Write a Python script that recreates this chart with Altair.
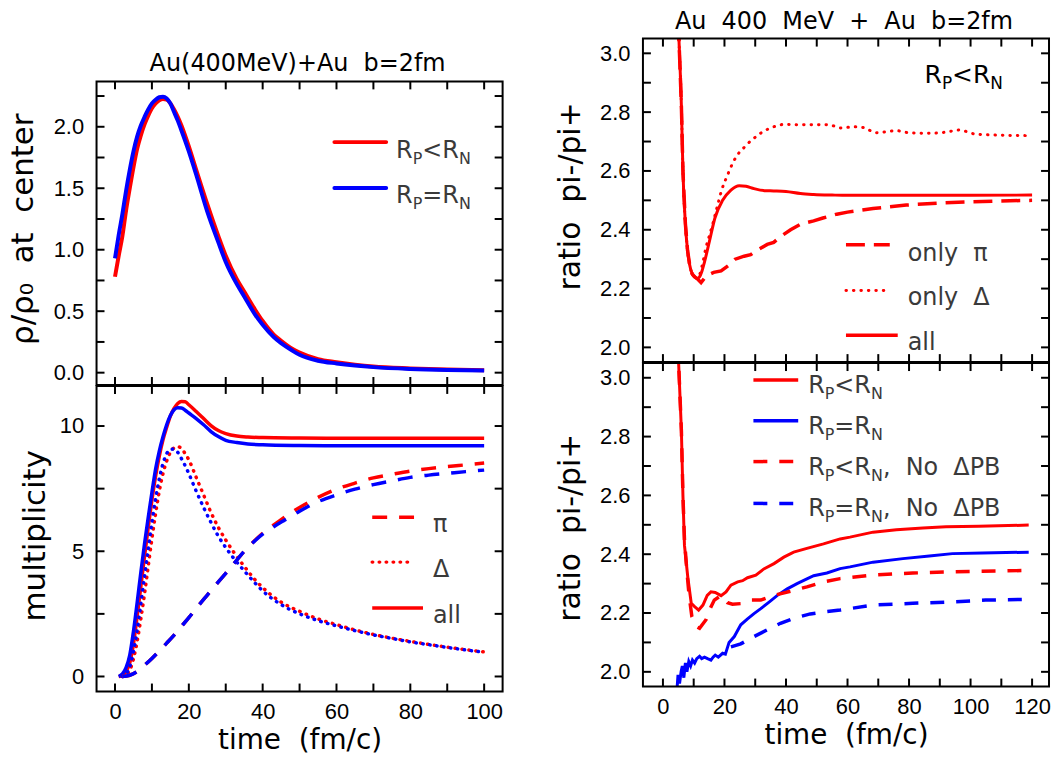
import altair as alt
import pandas as pd

# ---------------- data: central density (top-left) ----------------
dens_t = [0, 1, 2, 3, 4, 5, 6, 7, 8, 9, 10, 11, 12, 13, 14, 15, 16, 17, 18,
          20, 22, 25, 28, 30, 33, 35, 38, 40, 43, 45, 48, 50, 55, 60, 65, 70, 80, 90, 100]
dens_red = [0.78, 0.95, 1.11, 1.32, 1.50, 1.67, 1.82, 1.93, 2.02, 2.09, 2.15, 2.19, 2.215, 2.225, 2.22, 2.19, 2.14, 2.08, 2.01,
            1.84, 1.65, 1.37, 1.11, 0.95, 0.76, 0.66, 0.51, 0.42, 0.31, 0.26, 0.195, 0.164, 0.11, 0.085, 0.065, 0.05, 0.035, 0.025, 0.02]
dens_blue = [0.93, 1.12, 1.29, 1.48, 1.65, 1.80, 1.92, 2.01, 2.08, 2.14, 2.19, 2.22, 2.24, 2.245, 2.23, 2.19, 2.12, 2.05, 1.97,
             1.80, 1.61, 1.31, 1.06, 0.90, 0.72, 0.62, 0.47, 0.39, 0.29, 0.24, 0.18, 0.145, 0.097, 0.075, 0.058, 0.045, 0.03, 0.022, 0.018]

# ---------------- data: multiplicity (bottom-left) ----------------
mult_t = [1, 2, 3, 4, 5, 6, 7, 8, 9, 10, 11, 12, 13, 14, 15, 16, 17, 18, 19, 20,
          22, 24, 26, 28, 30, 33, 36, 40, 50, 60, 70, 80, 90, 100]
all_red = [0, 0.05, 0.2, 0.55, 1.3, 2.4, 3.6, 4.8, 5.95, 7.05, 8.0, 8.8, 9.45, 9.95, 10.4, 10.7, 10.9, 10.98, 10.97, 10.85,
           10.58, 10.3, 10.02, 9.82, 9.7, 9.6, 9.56, 9.54, 9.52, 9.51, 9.51, 9.51, 9.51, 9.51]
all_blue = [0, 0.1, 0.35, 0.85, 1.8, 2.95, 4.15, 5.3, 6.35, 7.35, 8.28, 9.0, 9.57, 10.05, 10.42, 10.65, 10.73, 10.72, 10.63, 10.52,
            10.3, 10.05, 9.78, 9.58, 9.43, 9.34, 9.28, 9.25, 9.22, 9.21, 9.21, 9.21, 9.21, 9.21]

delta_t = [2, 3, 4, 5, 6, 7, 8, 9, 10, 11, 12, 13, 14, 15, 16, 17, 18, 19, 20,
           22, 24, 26, 28, 30, 32, 35, 38, 40, 45, 50, 55, 60, 65, 70, 75, 80, 85, 90, 95, 100]
delta_red = [0, 0.05, 0.25, 0.7, 1.4, 2.3, 3.3, 4.4, 5.5, 6.5, 7.4, 8.1, 8.6, 8.95, 9.13, 9.18, 9.1, 8.9, 8.65,
             7.95, 7.25, 6.55, 5.95, 5.45, 5.0, 4.4, 3.85, 3.55, 2.97, 2.6, 2.3, 2.07, 1.86, 1.68, 1.53, 1.40, 1.28, 1.17, 1.07, 0.98]
delta_blue = [0, 0.1, 0.4, 1.0, 1.85, 2.9, 4.0, 5.1, 6.15, 7.1, 7.9, 8.5, 8.9, 9.07, 9.08, 8.95, 8.7, 8.42, 8.1,
              7.4, 6.75, 6.15, 5.6, 5.15, 4.75, 4.22, 3.72, 3.42, 2.87, 2.5, 2.23, 2.02, 1.83, 1.66, 1.52, 1.38, 1.27, 1.16, 1.06, 0.97]

pi_t = [2, 4, 6, 8, 10, 12, 14, 16, 18, 20, 22, 25, 28, 30, 33, 35, 38, 40, 43, 46,
        50, 55, 60, 65, 70, 75, 80, 85, 90, 95, 100]
pi_red = [0, 0.05, 0.2, 0.45, 0.72, 1.02, 1.33, 1.65, 2.0, 2.35, 2.72, 3.25, 3.78, 4.12, 4.65, 5.0, 5.45, 5.72, 6.05, 6.37,
          6.75, 7.15, 7.48, 7.72, 7.93, 8.07, 8.2, 8.3, 8.38, 8.45, 8.52]
pi_blue = [0, 0.05, 0.2, 0.45, 0.72, 1.02, 1.33, 1.65, 2.0, 2.35, 2.72, 3.25, 3.78, 4.12, 4.65, 5.0, 5.43, 5.68, 5.98, 6.25,
           6.6, 6.98, 7.25, 7.48, 7.66, 7.81, 7.95, 8.04, 8.11, 8.18, 8.24]

# ---------------- data: pi-/pi+ ratio, R_P<R_N (top-right) ----------------
tr_all_t = [4.7, 5.2, 6.0, 6.5, 7.3, 8.0, 8.7, 9.5, 10.3, 11.2, 11.9, 12.7, 13.5, 15.1, 16.9, 19.4, 22.1, 24.8, 27, 29.6,
            33, 36, 40, 44.7, 49, 55, 60, 70, 80, 100, 120]
tr_all_v = [3.2, 3.05, 2.82, 2.60, 2.42, 2.33, 2.28, 2.25, 2.24, 2.235, 2.24, 2.26, 2.29, 2.36, 2.44, 2.50, 2.535, 2.55, 2.548, 2.54,
            2.533, 2.532, 2.53, 2.523, 2.52, 2.518, 2.517, 2.517, 2.517, 2.517, 2.518]
tr_delta_t = [4.7, 5.2, 6.0, 6.5, 7.3, 8.0, 8.7, 9.5, 10.3, 11.2, 12, 13, 14, 15.1, 16.2, 17.8, 19.1, 21, 23.2, 24.6,
              26.4, 28.3, 30.2, 32, 34.5, 36.9, 39.1, 45, 54, 57.7, 62, 65, 69.4, 75.9, 80, 86.6, 92, 96.3, 101.7, 108, 119]
tr_delta_v = [3.2, 3.05, 2.82, 2.60, 2.42, 2.33, 2.28, 2.25, 2.24, 2.24, 2.25, 2.29, 2.34, 2.38, 2.42, 2.485, 2.535, 2.586, 2.637, 2.66,
              2.68, 2.70, 2.716, 2.73, 2.744, 2.753, 2.758, 2.757, 2.757, 2.746, 2.75, 2.748, 2.73, 2.737, 2.73, 2.728, 2.732, 2.739, 2.725, 2.722, 2.72]
tr_pi_t = [4.7, 5.2, 6.0, 6.5, 7.3, 8.0, 8.7, 9.5, 10.3, 11.5, 12.4, 13.5, 14.6, 16.5, 18.9, 21.5, 23.5, 26.4, 28.5, 30.5,
           33.9, 36, 38, 41.5, 45, 49, 52, 56.5, 60, 68.3, 79.1, 89.8, 100.6, 110, 120]
tr_pi_v = [3.2, 3.05, 2.82, 2.60, 2.42, 2.33, 2.28, 2.25, 2.24, 2.23, 2.22, 2.235, 2.246, 2.255, 2.26, 2.28, 2.30, 2.31, 2.315, 2.33,
           2.35, 2.357, 2.375, 2.40, 2.42, 2.43, 2.44, 2.453, 2.46, 2.472, 2.484, 2.491, 2.495, 2.498, 2.50]

# ---------------- data: pi-/pi+ ratio, four cases (bottom-right) ----------------
br_red_t = [4.8, 5.1, 6.0, 6.5, 7.0, 8.1, 9.2, 10.3, 11.6, 13.0, 14.4, 15.6, 17.0, 18.9, 20.5, 22.1, 24.3, 25.9, 27.5, 30.2,
            32.8, 36.1, 39.3, 42.5, 46.8, 52.2, 57.6, 60.8, 68.3, 75.9, 84.5, 92, 102.7, 118.9]
br_red_v = [3.2, 3.05, 2.82, 2.60, 2.43, 2.32, 2.233, 2.222, 2.21, 2.227, 2.26, 2.272, 2.27, 2.259, 2.272, 2.295, 2.306, 2.31, 2.32, 2.329,
            2.35, 2.368, 2.39, 2.407, 2.42, 2.435, 2.452, 2.458, 2.475, 2.483, 2.489, 2.493, 2.495, 2.499]
br_blue_t = [4.3, 4.9, 5.4, 5.9, 6.3, 6.8, 7.3, 7.8, 8.4, 9.0, 9.6, 10.3, 11.0, 11.9, 12.6, 13.5, 14.5, 15.6, 16.3, 17.0,
             18.0, 19.4, 20.3, 21.5, 23.2, 25.3, 27.5, 29.6, 31.8, 34.5, 37.2, 40.4, 43.6, 46.8, 49, 53.3, 57.6, 60.8, 68.3, 78,
             86.6, 94.1, 103.8, 118.9]
br_blue_v = [1.90, 1.99, 1.96, 2.0, 2.02, 1.98, 2.03, 2.0, 2.035, 2.02, 2.04, 2.03, 2.045, 2.053, 2.045, 2.05, 2.045, 2.04, 2.05, 2.057,
             2.05, 2.063, 2.06, 2.10, 2.12, 2.16, 2.18, 2.198, 2.215, 2.237, 2.26, 2.282, 2.30, 2.316, 2.327, 2.336, 2.351, 2.357, 2.373, 2.385,
             2.394, 2.402, 2.404, 2.407]
br_red_nopb_t = [4.8, 5.1, 6.0, 6.5, 7.0, 7.8, 8.5, 9.4, 10.8, 11.9, 14.0, 15.1, 16.7, 18.9, 21.0, 22.6, 25.3, 28.5, 31.8, 36.1,
                 41.5, 46.8, 52.2, 57.6, 68.3, 81.2, 94.1, 110.3, 118.9]
br_red_nopb_v = [3.2, 3.05, 2.82, 2.6, 2.45, 2.34, 2.26, 2.188, 2.154, 2.148, 2.177, 2.21, 2.244, 2.26, 2.235, 2.23, 2.232, 2.244, 2.244, 2.26,
                 2.274, 2.289, 2.306, 2.317, 2.329, 2.336, 2.34, 2.343, 2.345]
br_blue_nopb_t = [22.1, 25.3, 29.6, 33.9, 38.2, 42.5, 47.9, 53.3, 57.6, 68.3, 81.2, 94.1, 104.9, 116.7]
br_blue_nopb_v = [2.085, 2.095, 2.12, 2.143, 2.165, 2.182, 2.197, 2.205, 2.21, 2.227, 2.233, 2.238, 2.244, 2.246]

# ---------------- axis ticks / labels ----------------
left_x_ticks = [0, 10, 20, 30, 40, 50, 60, 70, 80, 90, 100]
left_x_labels = [0, 20, 40, 60, 80, 100]
dens_y_ticks = [0, 0.25, 0.5, 0.75, 1.0, 1.25, 1.5, 1.75, 2.0, 2.25]
dens_y_labels = [0.0, 0.5, 1.0, 1.5, 2.0]
mult_y_ticks = [0, 2.5, 5, 7.5, 10]
mult_y_labels = [0, 5, 10]
right_x_ticks = [0, 10, 20, 30, 40, 50, 60, 70, 80, 90, 100, 110, 120]
right_x_labels = [0, 20, 40, 60, 80, 100, 120]
ratio_y_ticks = [2.0, 2.1, 2.2, 2.3, 2.4, 2.5, 2.6, 2.7, 2.8, 2.9, 3.0]
ratio_y_labels = [2.0, 2.2, 2.4, 2.6, 2.8, 3.0]

# ---------------- styling ----------------
RED = "#ff0000"
BLUE = "#0000ff"
NUMF = "Liberation Sans"
TXTF = "DejaVu Sans"
LEGC = "#3a3a3a"
SP = "\u00a0"          # non-collapsing space
TICK = 8
W_L, H_LB = 408, 307
TL_TOP, H_LT = 43, 348  # top-left panel: blank band above its frame (room for the title)
W_R, H_R = 408, 325

xs_left = alt.Scale(domain=[-5, 105], nice=False, zero=False)
xs_right = alt.Scale(domain=[-6.5, 125.5], nice=False, zero=False)
ys_dens = alt.Scale(domain=[-0.1, 2.717], nice=False, zero=False)
ys_mult = alt.Scale(domain=[-0.6, 11.6], nice=False, zero=False)
ys_ratio = alt.Scale(domain=[1.95, 3.05], nice=False, zero=False)

ONE = pd.DataFrame({"k": [0]})

# DejaVu Sans advance widths (em) for legend composition
CW = {"R": .695, "P": .603, "N": .748, "<": .838, "=": .838, ",": .318, " ": .318, SP: .318,
      "o": .612, "Δ": .684, "B": .686}


def twidth(s, size):
    return sum(CW.get(c, .6) for c in s) * size


def line(t, v, color, xs, ys, width, dash=None, cap="butt", interp="linear", xaxis=None, yaxis=None):
    mk = dict(color=color, strokeWidth=width, strokeCap=cap, interpolate=interp, clip=True)
    if dash:
        mk["strokeDash"] = dash
    return alt.Chart(pd.DataFrame({"t": t, "v": v})).mark_line(**mk).encode(
        x=alt.X("t:Q", scale=xs, axis=xaxis),
        y=alt.Y("v:Q", scale=ys, axis=yaxis),
    )


def frame_layers(xs, ys, xvals, yvals, w, h, top=0):
    """Inward ticks on all four sides plus the box."""
    dx = pd.DataFrame({"t": xvals})
    dy = pd.DataFrame({"v": yvals})
    mk = dict(color="black", strokeWidth=2)
    return [
        alt.Chart(dx).mark_rule(**mk).encode(x=alt.X("t:Q", scale=xs, axis=None), y=alt.value(h), y2=alt.value(h - TICK)),
        alt.Chart(dx).mark_rule(**mk).encode(x=alt.X("t:Q", scale=xs, axis=None), y=alt.value(top), y2=alt.value(top + TICK)),
        alt.Chart(dy).mark_rule(**mk).encode(y=alt.Y("v:Q", scale=ys, axis=None), x=alt.value(0), x2=alt.value(TICK)),
        alt.Chart(dy).mark_rule(**mk).encode(y=alt.Y("v:Q", scale=ys, axis=None), x=alt.value(w), x2=alt.value(w - TICK)),
        alt.Chart(ONE).mark_rect(fillOpacity=0, stroke="black", strokeWidth=2).encode(
            x=alt.value(0), x2=alt.value(w), y=alt.value(top), y2=alt.value(h)),
    ]


def xlabel_axis(vals):
    return alt.Axis(orient="bottom", values=vals, format="d", ticks=False, tickSize=0, domain=False, grid=False,
                    labelFont=NUMF, labelFontSize=22, labelColor="black", labelPadding=10, labelFlush=False,
                    labelOverlap=False, title=f"time{SP}{SP}(fm/c)", titleFont=TXTF, titleFontSize=28,
                    titleFontWeight="normal", titleColor="black", titlePadding=4)


def ylabel_axis(vals, fmt, title, tx, ty, tsize=30):
    return alt.Axis(orient="left", values=vals, format=fmt, ticks=False, tickSize=0, domain=False, grid=False,
                    labelFont=NUMF, labelFontSize=22, labelColor="black", labelPadding=13, labelFlush=False,
                    labelOverlap=False, title=title, titleFont=TXTF, titleFontSize=tsize, titleFontWeight="normal",
                    titleColor="black", titleX=tx, titleY=ty, titleAngle=270, titleAlign="center",
                    titleBaseline="alphabetic")


def seg(x1, x2, y, color, width, dash=None, cap="butt"):
    mk = dict(color=color, strokeWidth=width, strokeCap=cap)
    if dash:
        mk["strokeDash"] = dash
    return alt.Chart(ONE).mark_rule(**mk).encode(x=alt.value(x1), x2=alt.value(x2), y=alt.value(y))


def text(s, x, y, size, color="black", align="left", font=TXTF):
    return alt.Chart(ONE).mark_text(text=s, font=font, fontSize=size, color=color, align=align,
                                    baseline="alphabetic").encode(x=alt.value(x), y=alt.value(y))


def rich(segments, x0, y0, main=24, sub=16, color=LEGC):
    out = []
    x = x0
    for s, is_sub in segments:
        size = sub if is_sub else main
        out.append(text(s, x, y0 + (6 if is_sub else 0), size, color=color))
        x += twidth(s, size)
    return out


def rp_lt_rn(extra=""):
    segs = [("R", False), ("P", True), ("<R", False), ("N", True)]
    if extra:
        segs.append((extra, False))
    return segs


def rp_eq_rn(extra=""):
    segs = [("R", False), ("P", True), ("=R", False), ("N", True)]
    if extra:
        segs.append((extra, False))
    return segs


def panel(layers, w, h):
    return alt.layer(*layers).resolve_axis(x="independent", y="independent").properties(width=w, height=h)


NOPB = f",{SP}{SP}No{SP}{SP}ΔPB"

# ---------------- top-left: density ----------------
T0 = TL_TOP
tl_layers = [
    line(dens_t, dens_red, RED, xs_left, ys_dens, 4, interp="monotone", xaxis=None,
         yaxis=ylabel_axis(dens_y_labels, ".1f", f"ρ/ρ₀{SP}{SP}at{SP}{SP}center", -64, T0 + 148, tsize=31)),
    line(dens_t, dens_blue, BLUE, xs_left, ys_dens, 4, interp="monotone"),
] + frame_layers(xs_left, ys_dens, left_x_ticks, dens_y_ticks, W_L, H_LT, top=T0) + [
    seg(239, 291, T0 + 61, RED, 4, cap="round"),
    seg(239, 291, T0 + 107, BLUE, 4, cap="round"),
] + rich(rp_lt_rn(), 301, T0 + 77) + rich(rp_eq_rn(), 301, T0 + 122) + [
    text(f"Au(400MeV)+Au{SP}{SP}b=2fm", 202, T0 - 10, 24, align="center"),
]
top_left = panel(tl_layers, W_L, H_LT)

# ---------------- bottom-left: multiplicity ----------------
PI_DASH = [15, 12]
DOT_L = [0.5, 6.5]
bl_layers = [
    line(mult_t, all_red, RED, xs_left, ys_mult, 3.5, interp="monotone", xaxis=xlabel_axis(left_x_labels),
         yaxis=ylabel_axis(mult_y_labels, "d", "multiplicity", -52, 150, tsize=31)),
    line(mult_t, all_blue, BLUE, xs_left, ys_mult, 3.5, interp="monotone"),
    line(delta_t, delta_red, RED, xs_left, ys_mult, 3.5, dash=DOT_L, cap="round", interp="monotone"),
    line(delta_t, delta_blue, BLUE, xs_left, ys_mult, 3.5, dash=DOT_L, cap="round", interp="monotone"),
    line(pi_t, pi_red, RED, xs_left, ys_mult, 3.5, dash=PI_DASH, interp="monotone"),
    line(pi_t, pi_blue, BLUE, xs_left, ys_mult, 3.5, dash=PI_DASH, interp="monotone"),
] + frame_layers(xs_left, ys_mult, left_x_ticks, mult_y_ticks, W_L, H_LB) + [
    seg(277, 319, 132, RED, 3.5, dash=PI_DASH),
    seg(277, 319, 177, RED, 3.5, dash=DOT_L, cap="round"),
    seg(277, 328, 223, RED, 3.5),
    text("π", 338, 147, 24, color=LEGC),
    text("Δ", 338, 192, 24, color=LEGC),
    text("all", 338, 238, 24, color=LEGC),
]
bottom_left = panel(bl_layers, W_L, H_LB)

# ---------------- top-right: ratio R_P<R_N ----------------
TR_DASH = [19, 9]
DOT_R = [0.5, 7]
tr_layers = [
    line(tr_pi_t, tr_pi_v, RED, xs_right, ys_ratio, 3.5, dash=TR_DASH, xaxis=None,
         yaxis=ylabel_axis(ratio_y_labels, ".1f", f"ratio{SP}{SP}pi-/pi+", -64, 158)),
    line(tr_delta_t, tr_delta_v, RED, xs_right, ys_ratio, 3, dash=DOT_R, cap="round", interp="monotone"),
    line(tr_all_t, tr_all_v, RED, xs_right, ys_ratio, 3, interp="monotone"),
] + frame_layers(xs_right, ys_ratio, right_x_ticks, ratio_y_ticks, W_R, H_R) + [
    seg(204, 248, 207, RED, 3.5, dash=TR_DASH),
    seg(204, 248, 253, RED, 3, dash=DOT_R, cap="round"),
    seg(204, 256, 298, RED, 3.5),
    text(f"only{SP}{SP}π", 266, 223, 24, color=LEGC),
    text(f"only{SP}{SP}Δ", 266, 268, 24, color=LEGC),
    text("all", 266, 313, 24, color=LEGC),
] + rich(rp_lt_rn(), 283, 45, main=25, sub=17, color="black") + [
    text(f"Au{SP}{SP}400{SP}{SP}MeV{SP}{SP}+{SP}{SP}Au{SP}{SP}b=2fm", 202, -10, 24, align="center"),
]
top_right = panel(tr_layers, W_R, H_R)

# ---------------- bottom-right: ratio, four cases ----------------
BR_DASH = [14, 12]
br_layers = [
    line(br_red_t, br_red_v, RED, xs_right, ys_ratio, 3, xaxis=xlabel_axis(right_x_labels),
         yaxis=ylabel_axis(ratio_y_labels, ".1f", f"ratio{SP}{SP}pi-/pi+", -64, 165)),
    line(br_blue_t, br_blue_v, BLUE, xs_right, ys_ratio, 3),
    line(br_red_nopb_t, br_red_nopb_v, RED, xs_right, ys_ratio, 3.5, dash=BR_DASH),
    line(br_blue_nopb_t, br_blue_nopb_v, BLUE, xs_right, ys_ratio, 3.5, dash=BR_DASH),
] + frame_layers(xs_right, ys_ratio, right_x_ticks, ratio_y_ticks, W_R, H_R) + [
    seg(111, 156, 17, RED, 3.5),
    seg(111, 156, 58, BLUE, 3.5),
    seg(111, 156, 99, RED, 3.5, dash=BR_DASH),
    seg(111, 156, 141, BLUE, 3.5, dash=BR_DASH),
] + rich(rp_lt_rn(), 166, 30) + rich(rp_eq_rn(), 166, 71) \
  + rich(rp_lt_rn(NOPB), 166, 112) + rich(rp_eq_rn(NOPB), 166, 154)
bottom_right = panel(br_layers, W_R, H_R)

left_col = alt.vconcat(top_left, bottom_left, spacing=-2)
right_col = alt.vconcat(top_right, bottom_right, spacing=-2)

chart = alt.hconcat(left_col, right_col, spacing=52).properties(
    padding={"left": 8, "top": 8, "right": 0, "bottom": 0},
    background="white",
).configure_view(stroke="transparent", strokeWidth=0)

chart.save("out.html", embed_options={"renderer": "svg", "actions": False})
